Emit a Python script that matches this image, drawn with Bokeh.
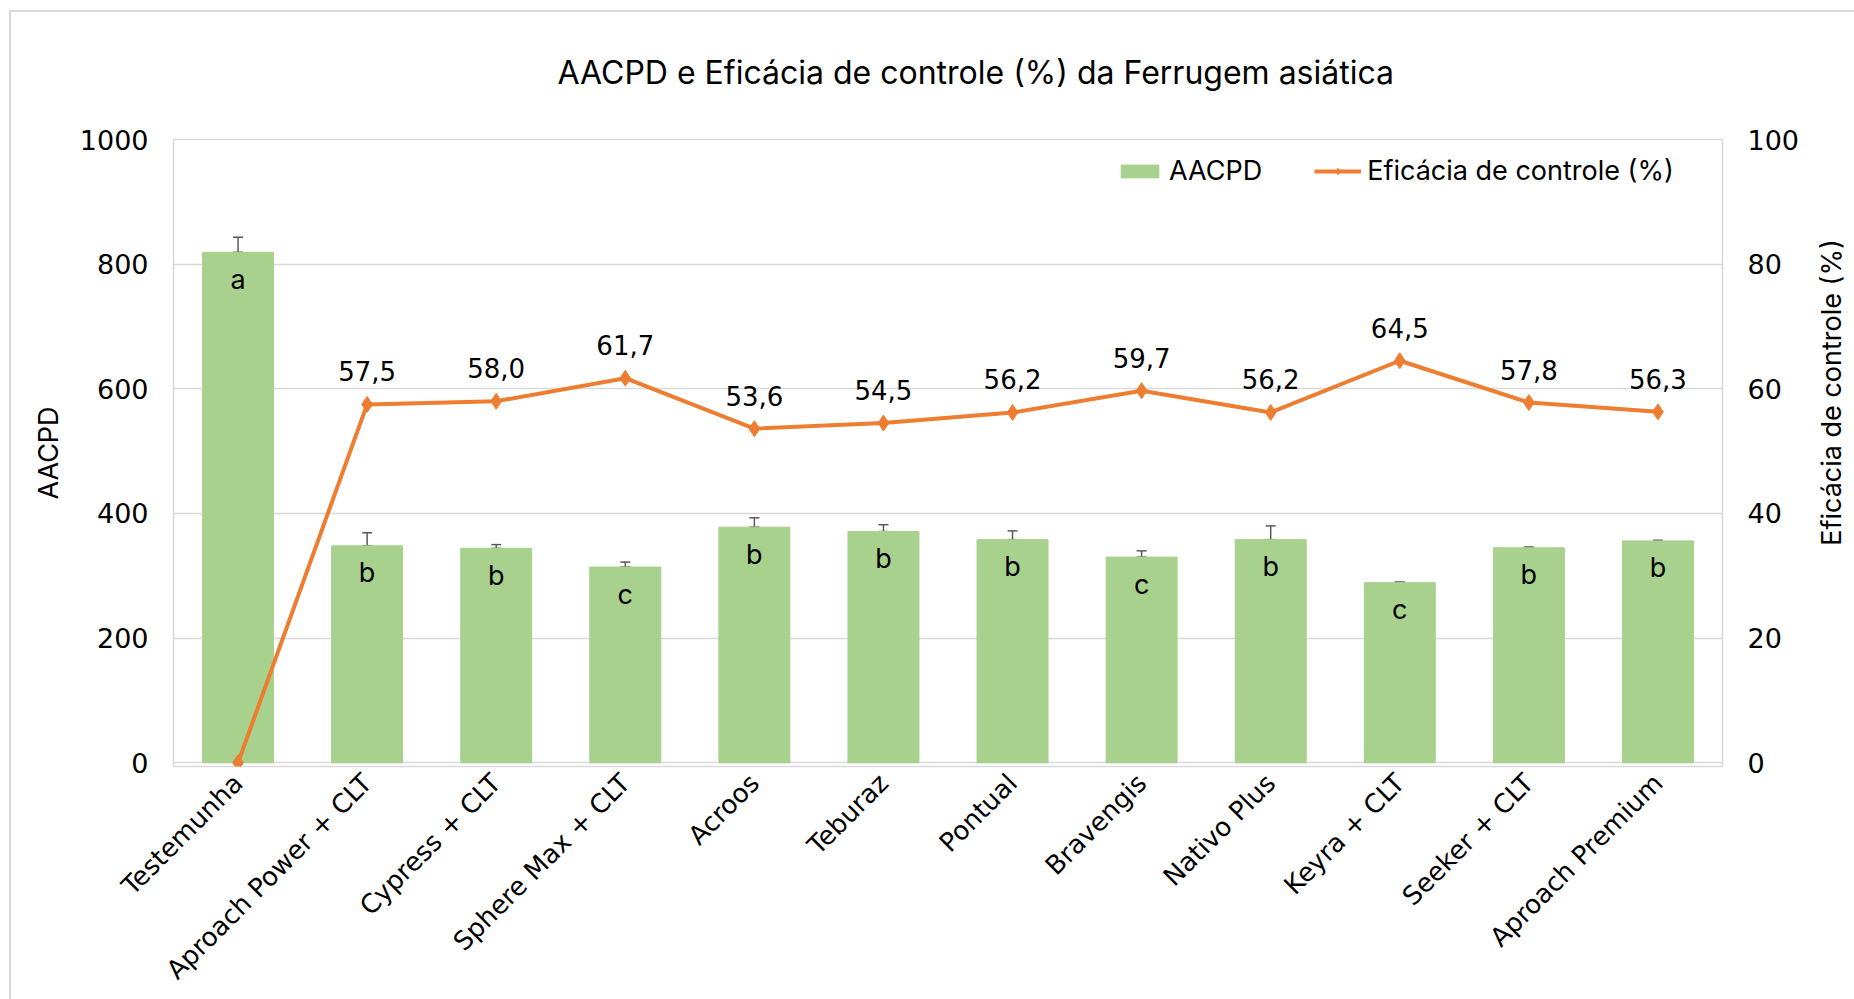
import math
from bokeh.plotting import figure
from bokeh.models import (FactorRange, Range1d, LinearAxis, FixedTicker, Whisker, TeeHead,
                          ColumnDataSource, LabelSet, Label, Legend, LegendItem)
from bokeh.core.properties import value
from bokeh.embed import file_html
from bokeh.resources import INLINE

# ---------------- data ----------------
categories = ["Testemunha", "Aproach Power + CLT", "Cypress + CLT", "Sphere Max + CLT", "Acroos",
              "Teburaz", "Pontual", "Bravengis", "Nativo Plus", "Keyra + CLT", "Seeker + CLT",
              "Aproach Premium"]
aacpd = [819, 348, 344, 314, 378, 371, 358, 330, 358, 289, 345, 356]
aacpd_err = [24, 21, 6, 8, 15, 11, 14, 10, 22, 1, 1, 1]
letters = ["a", "b", "b", "c", "b", "b", "b", "c", "b", "c", "b", "b"]
eficacia = [0.0, 57.5, 58.0, 61.7, 53.6, 54.5, 56.2, 59.7, 56.2, 64.5, 57.8, 56.3]
left_ticks = [0, 200, 400, 600, 800, 1000]
right_ticks = [0, 20, 40, 60, 80, 100]
title_text = "AACPD e Eficácia de controle (%) da Ferrugem asiática"
left_label = "AACPD"
right_label = "Eficácia de controle (%)"

GREEN = "#A9D18E"
ORANGE = "#ED7D31"
GRID = "#D9D9D9"
FONT = "Inter"
NUMFONT = "DejaVu Sans"
FS = "27px"

src = ColumnDataSource(dict(cat=categories, aacpd=aacpd,
                            upper=[a + e for a, e in zip(aacpd, aacpd_err)],
                            letter=letters, eff=eficacia))
lab_idx = [i for i, v in enumerate(eficacia) if v > 0]
lab_src = ColumnDataSource(dict(cat=[categories[i] for i in lab_idx],
                                eff=[eficacia[i] for i in lab_idx],
                                txt=[f"{eficacia[i]:.1f}".replace(".", ",") for i in lab_idx]))

frame_bg = ("linear-gradient(#d9d9d9,#d9d9d9) 9px 10px / 2px 3000px no-repeat, "
            "linear-gradient(#d9d9d9,#d9d9d9) 9px 10px / 3000px 2px no-repeat, #ffffff")

p = figure(width=1854, height=999, x_range=FactorRange(factors=categories),
           y_range=Range1d(-6, 1000), output_backend="svg", toolbar_location=None,
           min_border_left=173, min_border_right=132, min_border_top=139, min_border_bottom=233,
           styles={"background": frame_bg})
p.border_fill_color = None
p.background_fill_color = "#ffffff"
p.extra_y_ranges = {"eff": Range1d(-0.6, 100)}

# title
p.title.text = title_text
p.title.align = "left"
p.title.offset = 384
p.title.standoff = 96
p.title.text_font = FONT
p.title.text_font_size = "32px"
p.title.text_font_style = "normal"
p.title.text_color = "#000000"

# x axis (category labels)
xa = p.xaxis[0]
xa.axis_line_color = None
xa.major_tick_in = 0
xa.major_tick_out = 0
xa.minor_tick_line_color = None
xa.major_label_orientation = math.pi / 4
xa.major_label_standoff = 12
xa.major_label_text_font = "DejaVu Sans"
xa.major_label_text_font_size = "26px"
xa.major_label_text_color = "#000000"

p.xgrid.grid_line_color = None
p.ygrid.ticker = FixedTicker(ticks=left_ticks)
p.ygrid.grid_line_color = GRID
p.ygrid.grid_line_width = 1.5
p.outline_line_color = GRID
p.outline_line_width = 1.5

ya = p.yaxis[0]
ya.ticker = FixedTicker(ticks=left_ticks)
ya.axis_label = left_label
ya.axis_label_standoff = 12
yr = LinearAxis(y_range_name="eff", ticker=FixedTicker(ticks=right_ticks))
p.add_layout(yr, "right")
for ax in [ya, yr]:
    ax.axis_line_color = None
    ax.major_tick_in = 0
    ax.major_tick_out = 0
    ax.minor_tick_line_color = None
    ax.major_label_text_font = NUMFONT
    ax.major_label_text_font_size = FS
    ax.major_label_text_color = "#000000"
    ax.major_label_standoff = 25
    ax.axis_label_text_font = FONT
    ax.axis_label_text_font_size = FS
    ax.axis_label_text_font_style = "normal"
    ax.axis_label_text_color = "#000000"

# right-hand axis title (reads bottom to top, as in the reference)
try:
    rlab = Label(x=1831, y=392, x_units="canvas", y_units="canvas", text=right_label,
                 angle=math.pi / 2, text_align="center", text_baseline="middle",
                 text_font=FONT, text_font_size=FS, text_color="#000000")
except Exception:
    rlab = Label(x=20, y=380, x_units="screen", y_units="screen", text=right_label,
                 angle=math.pi / 2, text_align="center", text_baseline="middle",
                 text_font=FONT, text_font_size=FS, text_color="#000000")
p.add_layout(rlab, "right")

bars = p.vbar(x="cat", top="aacpd", width=0.55, source=src, fill_color=GREEN, line_color=GREEN)
p.add_layout(Whisker(base="cat", lower="aacpd", upper="upper", source=src,
                     line_color="#595959", line_width=1.5,
                     upper_head=TeeHead(size=10, line_color="#595959", line_width=1.5),
                     lower_head=TeeHead(size=10, line_color="#595959", line_width=1.5)))
line = p.line(x="cat", y="eff", source=src, y_range_name="eff", line_color=ORANGE, line_width=4)
pts = p.scatter(x="cat", y="eff", source=src, y_range_name="eff", marker="diamond", size=16,
                fill_color=ORANGE, line_color=ORANGE)

p.add_layout(LabelSet(x="cat", y="aacpd", text="letter", source=src, y_offset=-27,
                      text_align="center", text_baseline="middle", text_font=value(FONT),
                      text_font_size=value(FS), text_color="#000000"))
p.add_layout(LabelSet(x="cat", y="eff", text="txt", source=lab_src, y_range_name="eff", y_offset=33,
                      text_align="center", text_baseline="middle", text_font=value(NUMFONT),
                      text_font_size=value("26px"), text_color="#000000"))

legend = Legend(items=[LegendItem(label="AACPD", renderers=[bars]),
                       LegendItem(label=right_label, renderers=[line, pts])],
                location=(943, 579), orientation="horizontal", border_line_color=None,
                background_fill_alpha=0, padding=0, margin=0, spacing=52, label_standoff=6,
                glyph_width=47, glyph_height=16, label_text_font=FONT, label_text_font_size=FS,
                label_text_color="#000000")
p.add_layout(legend)

open("out.html", "w").write(file_html(p, INLINE))
